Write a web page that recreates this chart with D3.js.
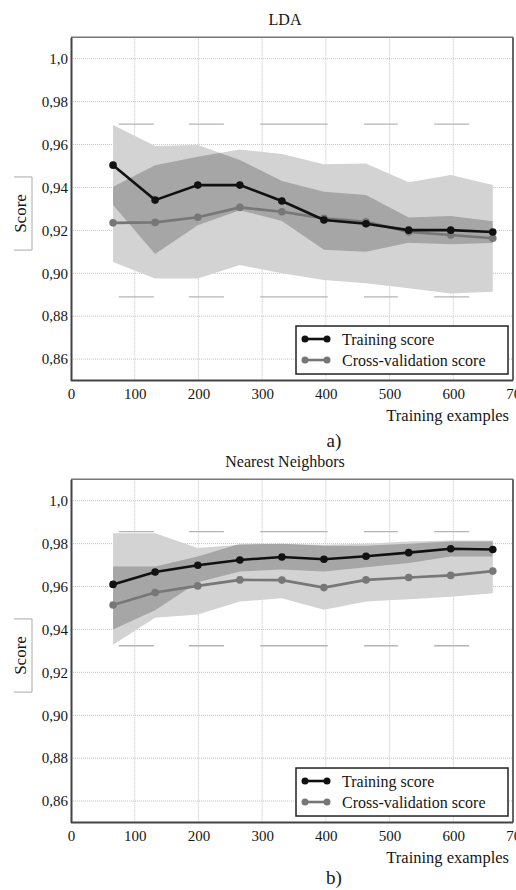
<!DOCTYPE html>
<html>
<head>
<meta charset="utf-8">
<script src="https://cdn.jsdelivr.net/npm/d3@7"></script>
<style>
  body { margin: 0; background: #fff; }
  svg { display: block; font-family: "Liberation Serif", "DejaVu Serif", serif; }
</style>
</head>
<body>
<div id="chart"></div>
<script>
// training set sizes (x axis)
var trainSizes = [66, 132, 199, 265, 331, 397, 463, 530, 596, 662];
var xTicks = [0, 100, 200, 300, 400, 500, 600, 700];
var yTicks = [0.86, 0.88, 0.90, 0.92, 0.94, 0.96, 0.98, 1.0];
var yTickLabels = ["0,86", "0,88", "0,90", "0,92", "0,94", "0,96", "0,98", "1,0"];
// faint horizontal strokes left in the scan at the band extremes (x spans, data units)
var capSpans = [[75, 130], [185, 240], [297, 403], [460, 513], [570, 625]];

// a) LDA
var ldaTrainMean = [0.9504, 0.9341, 0.9411, 0.9411, 0.9337, 0.9248, 0.9231, 0.9201, 0.9201, 0.9192];
var ldaTrainLow  = [0.9318, 0.9090, 0.9224, 0.9294, 0.9244, 0.9110, 0.9100, 0.9142, 0.9135, 0.9141];
var ldaTrainHigh = [0.9691, 0.9593, 0.9598, 0.9528, 0.9430, 0.9380, 0.9365, 0.9260, 0.9267, 0.9243];
var ldaCvMean = [0.9235, 0.9237, 0.9261, 0.9307, 0.9287, 0.9256, 0.9240, 0.9193, 0.9178, 0.9163];
var ldaCvLow  = [0.9053, 0.8976, 0.8976, 0.9038, 0.9000, 0.8968, 0.8953, 0.8930, 0.8906, 0.8914];
var ldaCvHigh = [0.9403, 0.9504, 0.9543, 0.9577, 0.9556, 0.9508, 0.9512, 0.9424, 0.9458, 0.9411];
var ldaCaps = [0.9695, 0.889];

// b) Nearest Neighbors
var knnTrainMean = [0.9610, 0.9668, 0.9699, 0.9724, 0.9738, 0.9727, 0.9741, 0.9758, 0.9776, 0.9773];
var knnTrainLow  = [0.9400, 0.9490, 0.9620, 0.9670, 0.9680, 0.9670, 0.9690, 0.9710, 0.9740, 0.9740];
var knnTrainHigh = [0.9848, 0.9848, 0.9780, 0.9795, 0.9800, 0.9795, 0.9800, 0.9810, 0.9815, 0.9815];
var knnCvMean = [0.9514, 0.9572, 0.9603, 0.9631, 0.9630, 0.9595, 0.9631, 0.9642, 0.9652, 0.9672];
var knnCvLow  = [0.9329, 0.9455, 0.9470, 0.9530, 0.9546, 0.9492, 0.9530, 0.9541, 0.9553, 0.9569];
var knnCvHigh = [0.9693, 0.9693, 0.9740, 0.9800, 0.9800, 0.9790, 0.9790, 0.9800, 0.9810, 0.9810];
var knnCaps = [0.9856, 0.9324];

var width = 516, height = 890;
var lightFill = "#d3d3d3", darkFill = "#a6a6a6";
var ink = "#161616";

var svg = d3.select("#chart").append("svg")
  .attr("width", width)
  .attr("height", height);

svg.append("rect").attr("width", width).attr("height", height).attr("fill", "#fff");

function drawPanel(id, dy, title, tMean, tLow, tHigh, cMean, cLow, cHigh, caps, caption, captionY) {
  var x = d3.scaleLinear().domain([0, 700]).range([71, 517]);
  var y = d3.scaleLinear().domain([0.85, 1.01]).range([380.5 + dy, 37.3 + dy]);
  var left = x(0), right = 513, top = y(1.01), bottom = y(0.85);

  var g = svg.append("g");

  // dotted grid
  g.selectAll(".gx").data(xTicks.slice(1, -1)).enter().append("line")
    .attr("x1", d => x(d)).attr("x2", d => x(d))
    .attr("y1", top).attr("y2", bottom)
    .attr("stroke", "#c4c4c4").attr("stroke-dasharray", "1,1");
  g.selectAll(".gy").data(yTicks).enter().append("line")
    .attr("x1", left).attr("x2", right)
    .attr("y1", d => y(d)).attr("y2", d => y(d))
    .attr("stroke", "#c4c4c4").attr("stroke-dasharray", "1,1");

  var idx = d3.range(trainSizes.length);
  var trainArea = d3.area().x(i => x(trainSizes[i])).y0(i => y(tLow[i])).y1(i => y(tHigh[i]));
  var cvArea = d3.area().x(i => x(trainSizes[i])).y0(i => y(cLow[i])).y1(i => y(cHigh[i]));

  // bands: each one light, the overlap dark
  svg.append("clipPath").attr("id", "clip-" + id)
    .append("path").attr("d", trainArea(idx));
  g.append("path").attr("d", trainArea(idx)).attr("fill", lightFill);
  g.append("path").attr("d", cvArea(idx)).attr("fill", lightFill);
  g.append("path").attr("d", cvArea(idx)).attr("fill", darkFill)
    .attr("clip-path", "url(#clip-" + id + ")");

  // faint strokes at the band extremes
  caps.forEach(function(v) {
    g.selectAll(null).data(capSpans).enter().append("line")
      .attr("x1", d => x(d[0])).attr("x2", d => x(d[1]))
      .attr("y1", y(v)).attr("y2", y(v))
      .attr("stroke", "#b4b4b4").attr("stroke-width", 1.3);
  });

  // mean lines
  var line = d3.line().x(d => x(d[0])).y(d => y(d[1]));
  var series = [
    { vals: cMean, color: "#777" },
    { vals: tMean, color: "#111" }
  ];
  series.forEach(function(s) {
    var pts = trainSizes.map((v, i) => [v, s.vals[i]]);
    g.append("path").attr("d", line(pts))
      .attr("fill", "none").attr("stroke", s.color).attr("stroke-width", 2.6);
    g.selectAll(null).data(pts).enter().append("circle")
      .attr("cx", d => x(d[0])).attr("cy", d => y(d[1])).attr("r", 3.8)
      .attr("fill", s.color);
  });

  // frame
  g.append("line").attr("x1", left).attr("x2", right).attr("y1", top).attr("y2", top)
    .attr("stroke", "#777").attr("stroke-width", 1.5);
  g.append("line").attr("x1", right).attr("x2", right).attr("y1", top).attr("y2", bottom)
    .attr("stroke", "#666").attr("stroke-width", 2);

  // axes
  var xAxis = g.append("g").attr("transform", "translate(0," + bottom + ")")
    .call(d3.axisBottom(x).tickValues(xTicks).tickSize(0).tickPadding(8).tickFormat(d3.format("d")));
  var yAxis = g.append("g").attr("transform", "translate(" + left + ",0)")
    .call(d3.axisLeft(y).tickValues(yTicks).tickSize(0).tickPadding(3)
      .tickFormat((d, i) => yTickLabels[i]));
  [xAxis, yAxis].forEach(function(a) {
    a.select(".domain").attr("stroke", "#444").attr("stroke-width", 2);
    a.selectAll("text").attr("font-family", "Liberation Serif").attr("font-size", 15).attr("fill", ink);
  });
  xAxis.select(".domain").attr("d", "M" + left + ",0H" + right);

  // title
  g.append("text").attr("x", 285).attr("y", top - 12)
    .attr("text-anchor", "middle").attr("font-size", 16).attr("fill", ink).text(title);

  // y label with its bracket
  var ly0 = y(0.9449), ly1 = y(0.9108);
  g.append("path").attr("d", "M14," + ly0 + "H32V" + ly1 + "H14")
    .attr("fill", "none").attr("stroke", "#aaa").attr("stroke-width", 1);
  g.append("text").attr("transform", "translate(26," + (ly0 + ly1) / 2 + ") rotate(-90)")
    .attr("text-anchor", "middle").attr("font-size", 17).attr("fill", ink).text("Score");

  // x label
  g.append("text").attr("x", 509).attr("y", bottom + 40)
    .attr("text-anchor", "end").attr("font-size", 16.5).attr("fill", ink).text("Training examples");

  // legend
  var lx = 296, lyTop = y(0.8754), lw = 212, lh = 48;
  var lg = g.append("g");
  lg.append("rect").attr("x", lx).attr("y", lyTop).attr("width", lw).attr("height", lh)
    .attr("fill", "#fff").attr("stroke", "#222").attr("stroke-width", 1.5);
  var entries = [
    { label: "Training score", color: "#111" },
    { label: "Cross-validation score", color: "#777" }
  ];
  entries.forEach(function(e, i) {
    var cy = lyTop + 13 + i * 21;
    lg.append("line").attr("x1", lx + 9).attr("x2", lx + 31).attr("y1", cy).attr("y2", cy)
      .attr("stroke", e.color).attr("stroke-width", 2.6);
    [lx + 9, lx + 31].forEach(function(cx) {
      lg.append("circle").attr("cx", cx).attr("cy", cy).attr("r", 3.5).attr("fill", e.color);
    });
    lg.append("text").attr("x", lx + 46).attr("y", cy + 5.5)
      .attr("font-size", 16).attr("fill", ink).text(e.label);
  });

  // caption under the panel
  svg.append("text").attr("x", 334).attr("y", captionY)
    .attr("text-anchor", "middle").attr("font-size", 19).attr("fill", ink).text(caption);
}

drawPanel("a", 0, "LDA", ldaTrainMean, ldaTrainLow, ldaTrainHigh, ldaCvMean, ldaCvLow, ldaCvHigh, ldaCaps, "a)", 447);
drawPanel("b", 442, "Nearest Neighbors", knnTrainMean, knnTrainLow, knnTrainHigh, knnCvMean, knnCvLow, knnCvHigh, knnCaps, "b)", 884);
</script>
</body>
</html>
